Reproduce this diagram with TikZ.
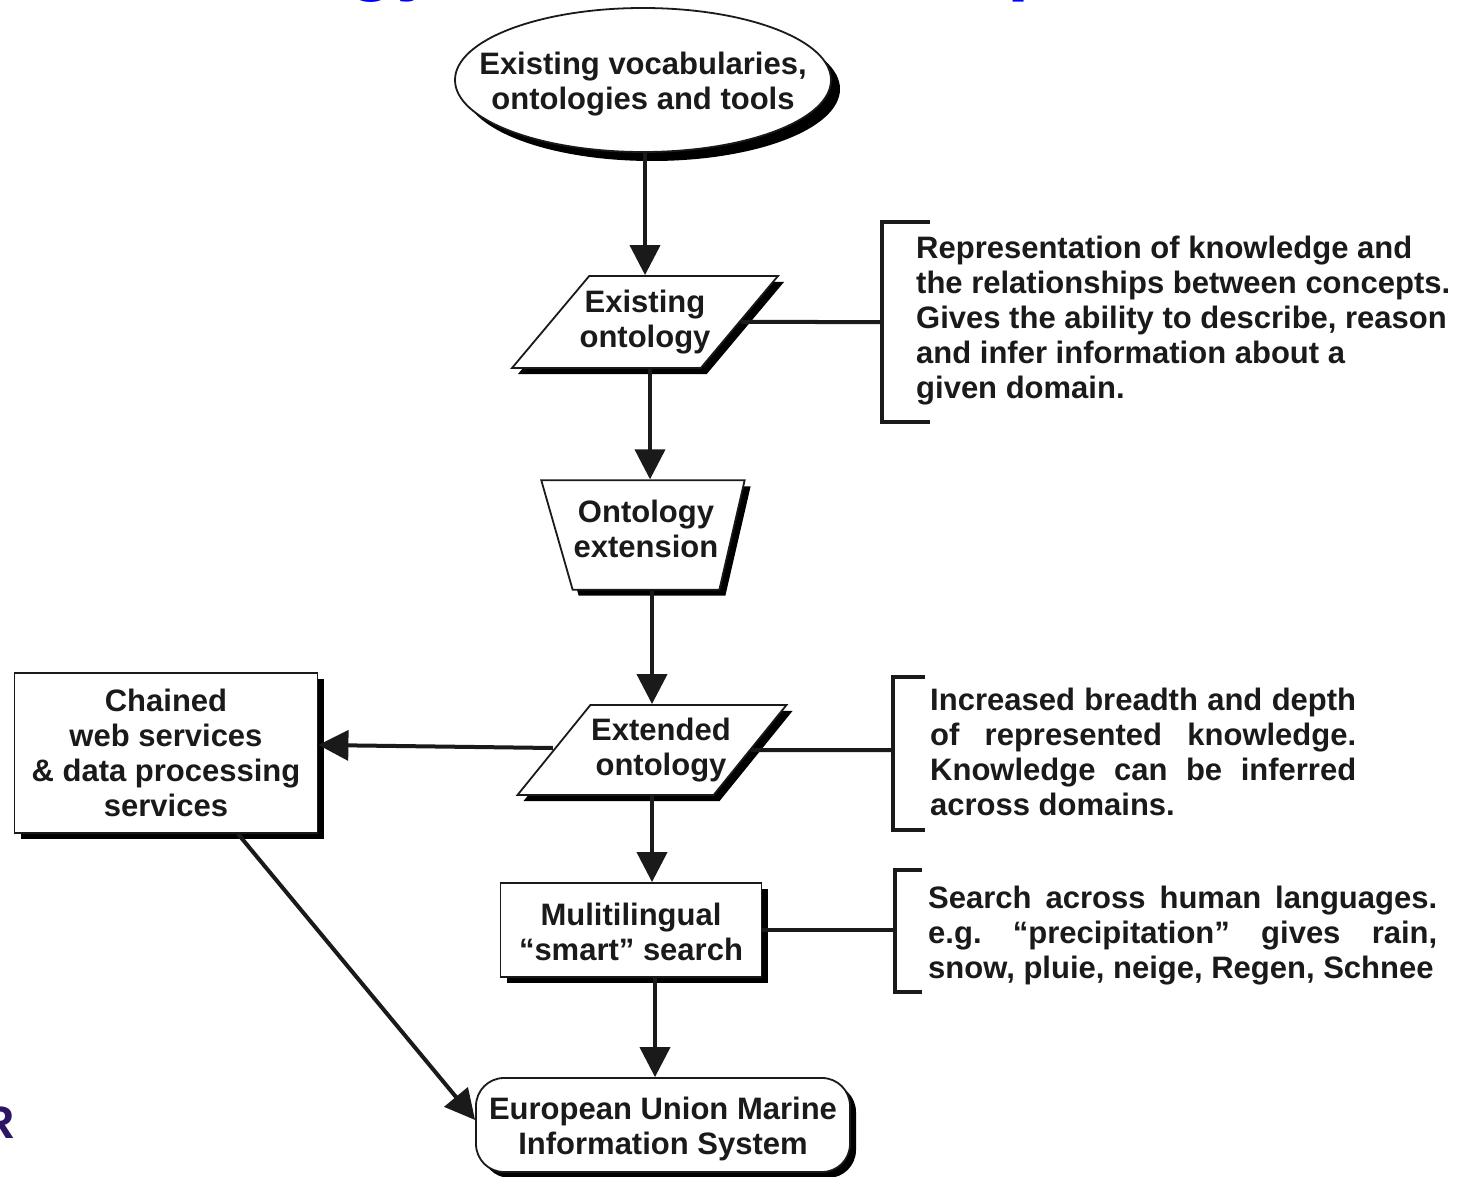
\documentclass[tikz,border=0pt]{standalone}
\usepackage{fontspec}
\setmainfont{Liberation Sans}
\usetikzlibrary{shapes.geometric,shadows,arrows.meta}
\definecolor{txt}{HTML}{1A1A1A}
\definecolor{titleblue}{HTML}{0000FF}
\definecolor{logopurple}{HTML}{2D1464}
\frenchspacing
\newcommand{\pushdown}[1]{\rule{0pt}{#1}}
\begin{document}
\begin{tikzpicture}[x=1pt,y=-1pt,
  every node/.style={font=\bfseries\fontsize{31}{35}\selectfont, text=txt},
  conn/.style={line width=4pt, draw=txt},
  arr/.style={conn, -{Triangle[width=30pt,length=30pt]}},
  brk/.style={line width=4pt, draw=txt, line join=miter},
  boxline/.style={draw=txt, line width=1.8pt, fill=white, align=center},
  shad/.style={drop shadow={shadow xshift=6pt, shadow yshift=-6pt, fill=black, opacity=1}},
  bigshad/.style={drop shadow={shadow xshift=9pt, shadow yshift=-9pt, fill=black, opacity=1}},
  para/.style={trapezium, trapezium stretches body, boxline, shad},
  desc/.style={anchor=north west, inner sep=0pt},
]
\useasboundingbox (0,0) rectangle (1459,1177);

% cropped fragments at the edges
\node[anchor=base west, inner sep=0pt, font=\bfseries\fontsize{80}{80}\selectfont, text=titleblue] (tgy) at (347,-14) {gy};
\node[anchor=base west, inner sep=0pt, font=\bfseries\fontsize{80}{80}\selectfont, text=titleblue] (tp) at (1007,-14) {p};
\node[anchor=base west, inner sep=0pt, font=\bfseries\fontsize{46}{46}\selectfont, text=logopurple] (logo) at (-19,1138) {R};

% main flow nodes
\node[ellipse, boxline, bigshad, minimum width=376pt, minimum height=144pt,
      inner xsep=-33pt, inner ysep=0pt] (ell) at (643,80)
      {\pushdown{31pt}Existing vocabularies,\\ontologies and tools};
\node[para, trapezium left angle=50, trapezium right angle=130,
      inner xsep=-10pt, inner ysep=14pt,
      minimum width=266pt, minimum height=92pt] (exo) at (645,322) {Existing\\ontology};
\node[para, trapezium left angle=106, trapezium right angle=103,
      inner xsep=1pt, inner ysep=20pt,
      minimum width=202pt, minimum height=105pt] (ext) at (646,535) {Ontology\\extension\rule[-12pt]{0pt}{0pt}};
\node[para, trapezium left angle=51, trapezium right angle=129,
      inner xsep=-17.5pt, inner ysep=13pt,
      minimum width=269pt, minimum height=90pt] (exd) at (652,750)
      {\hspace*{18pt}Extended\\\hspace*{18pt}ontology};
\node[rectangle, boxline, shad, minimum width=303pt, minimum height=160pt, inner sep=0pt]
      (chn) at (166,753) {Chained\\web services\\\& data processing\\services};
\node[rectangle, boxline, shad, minimum width=261pt, minimum height=94pt, inner sep=0pt]
      (mls) at (631,930) {\pushdown{26pt}Mulitilingual\\“smart” search};
\node[rectangle, rounded corners=28pt, boxline, shad, minimum width=374pt, minimum height=94pt, inner sep=0pt]
      (eu) at (663,1125) {\pushdown{31pt}European Union Marine\\Information System};

% descriptions
\node[desc, align=left] (t1) at (916,236)
  {Representation of knowledge and\\the relationships between concepts.\\Gives the ability to describe, reason\\and infer information about a\\given domain.};
\node[desc, text width=426pt, align=justify] (t2) at (930,688)
  {Increased breadth and depth\linebreak of represented knowledge.\linebreak Knowledge can be inferred\linebreak across domains.};
\node[desc, text width=509pt, align=justify] (t3) at (928,886)
  {Search across human languages.\linebreak e.g. “precipitation” gives rain,\linebreak snow, pluie, neige, Regen, Schnee};

% brackets
\coordinate (br1) at (882,322);
\coordinate (br2) at (893,750);
\coordinate (br3) at (895,930);
\draw[brk] (930,222) -- (882,222) -- (882,422) -- (930,422);
\draw[brk] (925,677) -- (893,677) -- (893,830) -- (925,830);
\draw[brk] (922,870) -- (895,870) -- (895,992) -- (922,992);
\draw[conn] (exo.east) -- (br1);
\draw[conn] (exd.east) -- (br2);
\draw[conn] (mls.east) -- (br3);

% arrows
\draw[arr] (ell.south -| exo.north) -- (exo.north);
\draw[arr] ([xshift=5pt]exo.south) -- ([xshift=5pt]exo.south |- ext.north);
\draw[arr] (exd.north |- ext.south) -- (exd.north);
\draw[arr] ([yshift=2pt]exd.west) -- ([yshift=8pt]chn.east);
\draw[arr] (exd.south) -- (exd.south |- mls.north);
\draw[arr] ([xshift=24pt]mls.south) -- ([xshift=24pt]mls.south |- eu.north);
\draw[arr] ([xshift=72pt]chn.south) -- ([yshift=5pt]eu.west);
\end{tikzpicture}
\end{document}
